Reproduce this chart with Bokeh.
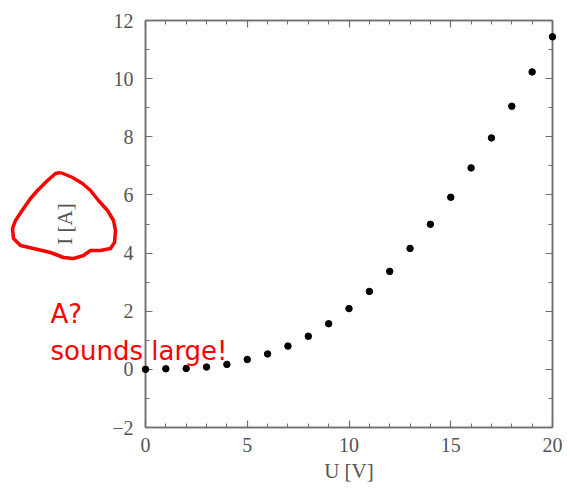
from bokeh.plotting import figure
from bokeh.models import Range1d, LinearAxis, FixedTicker
from bokeh.core.properties import value
from bokeh.embed import file_html
from bokeh.resources import INLINE

# ---- data ----
u_volts = [0, 1, 2, 3, 4, 5, 6, 7, 8, 9, 10, 11, 12, 13, 14, 15, 16, 17, 18, 19, 20]
i_amps = [0.0, 0.02, 0.03, 0.08, 0.17, 0.34, 0.53, 0.80, 1.14, 1.57, 2.09,
          2.68, 3.37, 4.16, 4.99, 5.92, 6.93, 7.96, 9.05, 10.23, 11.44]
x_ticks = [0, 5, 10, 15, 20]
x_minor = list(range(0, 21))
y_ticks = [-2, 0, 2, 4, 6, 8, 10, 12]
y_minor = list(range(-2, 13))
x_label = "U [V]"
y_label = "I [A]"
note_lines = ["A?", "sounds large!"]

# hand-drawn circle around the y-axis label (canvas pixels)
scribble_x = [60, 72, 82, 90, 98, 107, 113, 115, 114, 110, 100, 90, 83, 73, 63, 50, 33, 20, 13, 12, 15, 23, 30, 37, 47, 55, 60]
scribble_y = [172, 177, 183, 190, 200, 210, 220, 230, 242, 248, 250, 250, 255, 258, 257, 252, 248, 245, 238, 228, 220, 208, 198, 190, 180, 173, 172]
note_x = [50, 50]
note_y = [313, 350]

FRAME_L, FRAME_R, FRAME_T, FRAME_B = 145, 552, 20, 427
W, H = 570, 498

AXIS_COLOR = "#6f6f6f"
TEXT_COLOR = "#555555"
SERIF = "Liberation Serif"

p = figure(width=W, height=H, output_backend="svg", toolbar_location=None,
           x_range=Range1d(0, 20), y_range=Range1d(-2, 12),
           x_axis_location=None, y_axis_location=None,
           min_border_left=FRAME_L, min_border_right=W - FRAME_R,
           min_border_top=FRAME_T, min_border_bottom=H - FRAME_B)
# pixel-space ranges for the hand-drawn annotation
p.extra_x_ranges = {"px": Range1d(FRAME_L, FRAME_R)}
p.extra_y_ranges = {"px": Range1d(FRAME_B, FRAME_T)}
p.background_fill_color = "white"
p.border_fill_color = "white"
p.outline_line_color = AXIS_COLOR
p.outline_line_width = 1.5
p.xgrid.visible = False
p.ygrid.visible = False


def style_axis(ax, ticks, minor, show_labels):
    ax.ticker = FixedTicker(ticks=ticks, minor_ticks=minor)
    ax.axis_line_color = AXIS_COLOR
    ax.axis_line_width = 1.5
    ax.major_tick_line_color = AXIS_COLOR
    ax.minor_tick_line_color = AXIS_COLOR
    ax.major_tick_line_width = 1.2
    ax.minor_tick_line_width = 1.0
    ax.major_tick_in = 7
    ax.major_tick_out = 0
    ax.minor_tick_in = 4
    ax.minor_tick_out = 0
    ax.major_label_text_font = SERIF
    ax.major_label_text_font_size = "20px"
    ax.major_label_text_color = TEXT_COLOR
    ax.axis_label_text_font = SERIF
    ax.axis_label_text_font_size = "21px"
    ax.axis_label_text_font_style = "normal"
    ax.axis_label_text_color = TEXT_COLOR
    if not show_labels:
        ax.major_label_text_font_size = "0px"
        ax.major_label_text_color = None
        ax.major_label_standoff = 0


xb = LinearAxis(axis_label=x_label)
style_axis(xb, x_ticks, x_minor, True)
xb.major_label_standoff = 10
xb.axis_label_standoff = 4
p.add_layout(xb, "below")

yl = LinearAxis(axis_label=y_label)
style_axis(yl, y_ticks, y_minor, True)
yl.major_label_standoff = 12
yl.axis_label_standoff = 32
p.add_layout(yl, "left")

xt = LinearAxis()
style_axis(xt, x_ticks, x_minor, False)
p.add_layout(xt, "above")

yr = LinearAxis()
style_axis(yr, y_ticks, y_minor, False)
p.add_layout(yr, "right")

p.scatter(u_volts, i_amps, size=6.5, color="black", line_color="black", level="overlay")

# annotation: red scribble and note, drawn in pixel space
p.line(scribble_x, scribble_y, x_range_name="px", y_range_name="px",
       line_color="#ff0000", line_width=3.5, line_join="round", level="overlay")
p.text(note_x, note_y, text=note_lines, x_range_name="px", y_range_name="px",
       text_font=value("DejaVu Sans"), text_font_size="26px", text_color="#ff0000",
       text_baseline="alphabetic", level="overlay")

open("out.html", "w").write(file_html(p, INLINE))
